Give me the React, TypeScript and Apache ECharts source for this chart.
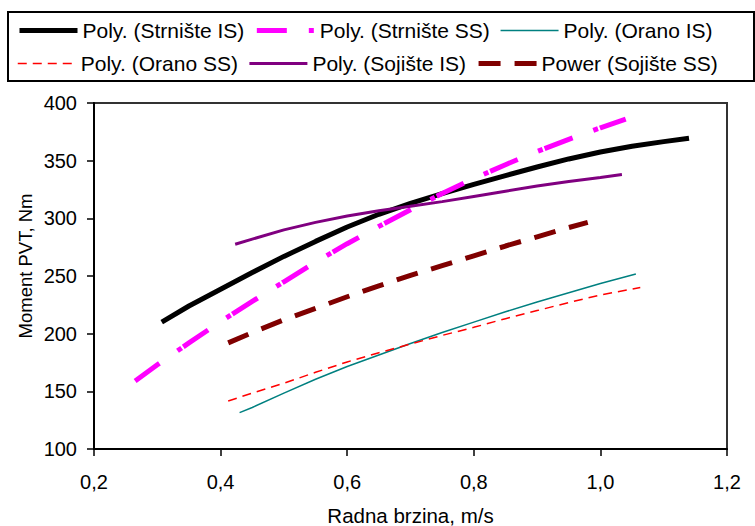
import React, { useEffect, useRef } from "react";
import * as echarts from "echarts";

// Radna brzina (m/s) vs Moment PVT (Nm)
const strnisteIS: [number, number][] = [
  [0.307, 210], [0.35, 224], [0.4, 238.5], [0.45, 253], [0.5, 267], [0.55, 280],
  [0.6, 292.5], [0.65, 303.5], [0.7, 313], [0.75, 321.5], [0.8, 329.5], [0.85, 337],
  [0.9, 344.5], [0.95, 351.5], [1.0, 357.5], [1.05, 362.5], [1.1, 366.5], [1.14, 369.5],
];
const strnisteSS: [number, number][] = [
  [0.265, 159], [0.3, 173], [0.35, 192], [0.4, 210.5], [0.45, 228], [0.5, 245],
  [0.55, 262], [0.6, 278], [0.65, 293], [0.7, 307.5], [0.75, 321.5], [0.8, 334.5],
  [0.85, 346.5], [0.9, 358], [0.95, 368.5], [1.0, 378.5], [1.04, 386],
];
const oranoIS: [number, number][] = [
  [0.43, 131.5], [0.45, 136], [0.5, 148.5], [0.55, 160.5], [0.6, 171.5], [0.65, 181.5],
  [0.7, 191.5], [0.75, 201], [0.8, 210], [0.85, 219], [0.9, 227.5], [0.95, 235.5],
  [1.0, 243.5], [1.056, 251.7],
];
const oranoSS: [number, number][] = [
  [0.412, 141.6], [0.45, 148.5], [0.5, 157], [0.55, 166.5], [0.6, 175.5], [0.65, 183.5],
  [0.7, 191], [0.75, 198.5], [0.8, 205.5], [0.85, 213], [0.9, 220], [0.95, 227],
  [1.0, 233.5], [1.063, 240],
];
const sojisteIS: [number, number][] = [
  [0.423, 277.5], [0.45, 282], [0.5, 290], [0.55, 296.5], [0.6, 302], [0.65, 306.5],
  [0.7, 310.5], [0.75, 314.5], [0.8, 319], [0.85, 323.5], [0.9, 328], [0.95, 332],
  [1.0, 335.5], [1.034, 338],
];
const sojisteSS: [number, number][] = [
  [0.412, 192], [0.45, 201], [0.5, 212], [0.55, 222], [0.6, 232], [0.65, 241.5],
  [0.7, 250.5], [0.75, 259], [0.8, 267.5], [0.85, 276], [0.9, 284], [0.95, 292],
  [0.98, 296.5],
];

const seriesNames = [
  "Poly. (Strnište IS)",
  "Poly. (Strnište SS)",
  "Poly. (Orano IS)",
  "Poly. (Orano SS)",
  "Poly. (Sojište IS)",
  "Power (Sojište SS)",
];
const seriesColors = ["#000000", "#FF00FF", "#008080", "#FF0000", "#800080", "#800000"];
const seriesWidths = [5, 5, 1.5, 1.5, 3, 5];
const seriesDash: any[] = ["solid", [30, 22, 5, 2], "solid", [9, 6], "solid", [22, 14]];
const seriesData = [strnisteIS, strnisteSS, oranoIS, oranoSS, sojisteIS, sojisteSS];

const xTitle = "Radna brzina, m/s";
const yTitle = "Moment PVT, Nm";

const FONT = "'Liberation Sans', Arial, sans-serif";

export default function App() {
  const ref = useRef<HTMLDivElement>(null);
  useEffect(() => {
    document.body.style.margin = "0";
    if (!ref.current) return;
    const chart = echarts.init(ref.current, undefined, { renderer: "svg" });
    const legendItem = (i: number) => ({
      name: seriesNames[i],
      lineStyle: { width: seriesWidths[i], color: seriesColors[i], type: seriesDash[i] },
    });
    const legendCommon = {
      orient: "horizontal",
      left: 17,
      padding: 0,
      itemWidth: 58,
      itemHeight: 14,
      itemGap: 10,
      itemStyle: { opacity: 0 },
      textStyle: { fontFamily: FONT, fontSize: 21, color: "#000", width: 176 },
      selectedMode: false,
    };
    chart.setOption({
      animation: false,
      backgroundColor: "#fff",
      textStyle: { fontFamily: FONT },
      legend: [
        { ...legendCommon, top: 20, data: [0, 1, 2].map(legendItem) },
        { ...legendCommon, top: 53, data: [3, 4, 5].map(legendItem) },
      ],
      graphic: [
        {
          type: "rect",
          shape: { x: 8, y: 12, width: 746, height: 69 },
          style: { fill: "none", stroke: "#000", lineWidth: 2 },
          silent: true,
        },
        {
          type: "text",
          x: 25,
          y: 266,
          rotation: Math.PI / 2,
          style: {
            text: yTitle,
            fontFamily: FONT,
            fontSize: 18.5,
            fill: "#000",
            align: "center",
            verticalAlign: "middle",
          },
          silent: true,
        },
      ],
      grid: {
        left: 94,
        right: 28,
        top: 103,
        bottom: 77,
        show: true,
        borderColor: "#333",
        borderWidth: 2,
        containLabel: false,
        outerBoundsMode: "none",
      },
      xAxis: {
        type: "value",
        min: 0.2,
        max: 1.2,
        interval: 0.2,
        name: xTitle,
        nameLocation: "middle",
        nameGap: 57,
        nameTextStyle: { fontFamily: FONT, fontSize: 20.5, color: "#000", lineHeight: 18 },
        axisLine: { show: true, onZero: false, lineStyle: { color: "#000", width: 2 } },
        axisTick: { show: true, inside: false, length: 7, lineStyle: { color: "#000", width: 1.5 } },
        axisLabel: {
          margin: 23,
          fontFamily: FONT,
          fontSize: 20,
          color: "#000",
          formatter: (v: number) => v.toFixed(1).replace(".", ","),
        },
        splitLine: { show: false },
      },
      yAxis: {
        type: "value",
        min: 100,
        max: 400,
        interval: 50,
        axisLine: { show: true, onZero: false, lineStyle: { color: "#000", width: 2 } },
        axisTick: { show: true, inside: false, length: 7, lineStyle: { color: "#000", width: 1.5 } },
        axisLabel: { margin: 17, fontFamily: FONT, fontSize: 20, color: "#000" },
        splitLine: { show: false },
      },
      series: seriesNames.map((name, i) => ({
        name,
        type: "line",
        data: seriesData[i],
        symbol: "none",
        smooth: false,
        lineStyle: { color: seriesColors[i], width: seriesWidths[i], type: seriesDash[i], cap: "butt" },
        itemStyle: { color: seriesColors[i] },
        z: 3,
      })),
    });
    return () => chart.dispose();
  }, []);
  return <div ref={ref} style={{ width: 755, height: 526 }} />;
}
